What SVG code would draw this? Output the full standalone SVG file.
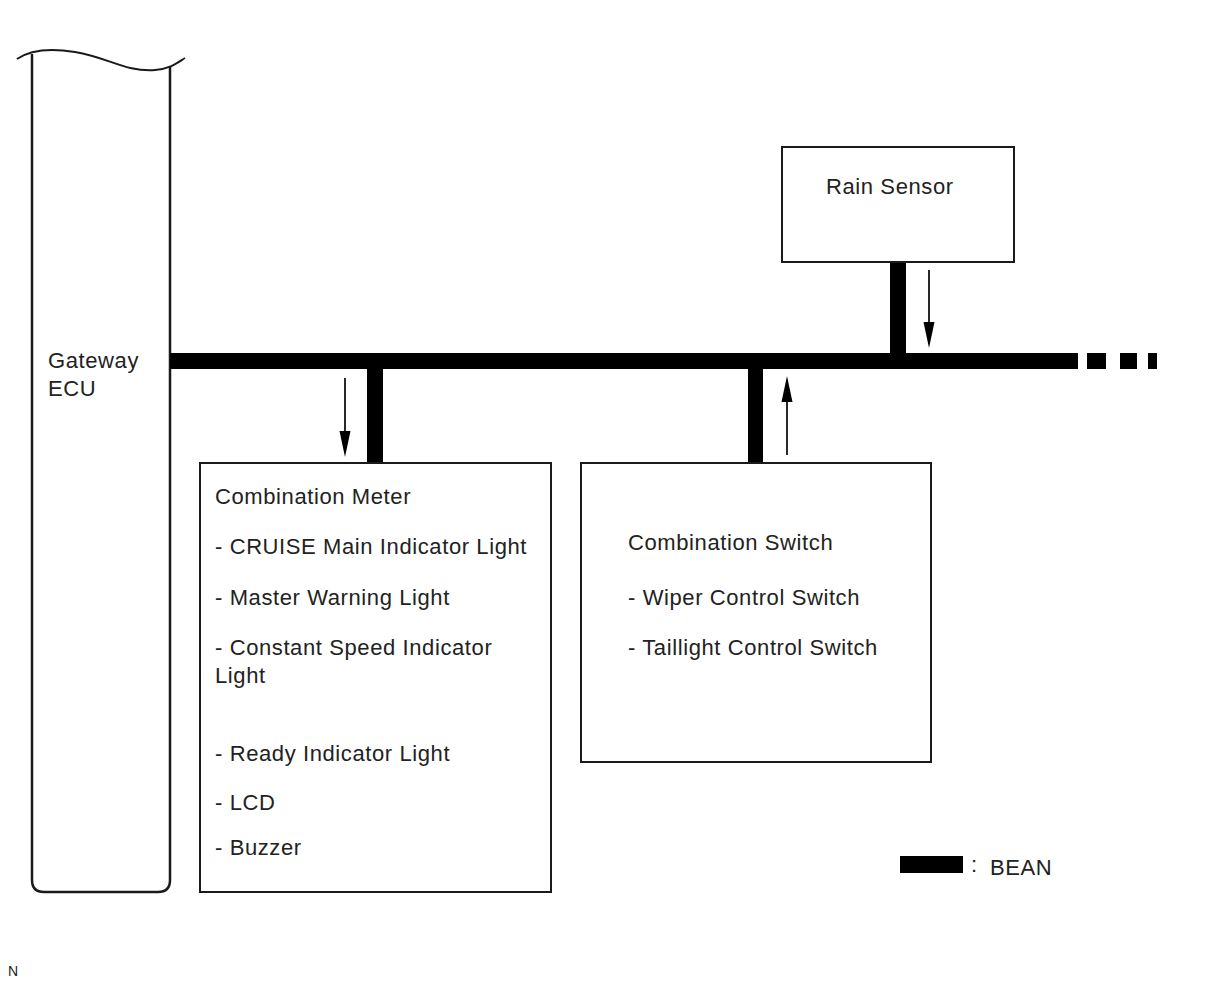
<svg xmlns="http://www.w3.org/2000/svg" width="1210" height="986" viewBox="0 0 1210 986">
<defs>
<style>
.box{fill:#fff;stroke:#1a1a1a;stroke-width:2}
.t{font-family:"Liberation Sans",Arial,sans-serif;font-size:22px;letter-spacing:0.6px;fill:#222}
.bus{fill:#000}
.arr{stroke:#111;stroke-width:1.8;fill:none}
</style>
</defs>
<rect width="1210" height="986" fill="#fff"/>

<g id="gateway-ecu">
<path d="M32,54 V880 Q32,892 44,892 H158 Q170,892 170,880 V67" fill="none" stroke="#1a1a1a" stroke-width="2.5"/>
<path d="M17,59 C30,50 50,48 75,52 C110,58 125,72 155,70 C170,69 177,63 185,58" fill="none" stroke="#1a1a1a" stroke-width="2"/>
<text class="t" x="48" y="368">Gateway</text>
<text class="t" x="48" y="396">ECU</text>
</g>

<g id="connectors">
<rect class="bus" x="170" y="353" width="908" height="16"/>
<rect class="bus" x="1087" y="353" width="19" height="16"/>
<rect class="bus" x="1120" y="353" width="17" height="16"/>
<rect class="bus" x="1148" y="353" width="9" height="16"/>
<rect class="bus" x="367" y="360" width="16" height="103"/>
<rect class="bus" x="748" y="360" width="15" height="103"/>
<rect class="bus" x="890" y="262" width="16" height="95"/>
<line class="arr" x1="345" y1="378" x2="345" y2="448"/>
<path d="M339.5,431 L350.5,431 L345,457 Z" fill="#000"/>
<line class="arr" x1="787" y1="455" x2="787" y2="385"/>
<path d="M781.5,402 L792.5,402 L787,376 Z" fill="#000"/>
<line class="arr" x1="929" y1="270" x2="929" y2="340"/>
<path d="M923.5,322 L934.5,322 L929,348 Z" fill="#000"/>
</g>

<g id="rain-sensor">
<rect class="box" x="782" y="147" width="232" height="115"/>
<text class="t" x="826" y="194">Rain Sensor</text>
</g>

<g id="combination-meter">
<rect class="box" x="200" y="463" width="351" height="429"/>
<text class="t" x="215" y="504">Combination Meter</text>
<text class="t" x="215" y="554">- CRUISE Main Indicator Light</text>
<text class="t" x="215" y="605">- Master Warning Light</text>
<text class="t" x="215" y="655">- Constant Speed Indicator</text>
<text class="t" x="215" y="683">Light</text>
<text class="t" x="215" y="761">- Ready Indicator Light</text>
<text class="t" x="215" y="810">- LCD</text>
<text class="t" x="215" y="855">- Buzzer</text>
</g>

<g id="combination-switch">
<rect class="box" x="581" y="463" width="350" height="299"/>
<text class="t" x="628" y="550">Combination Switch</text>
<text class="t" x="628" y="605">- Wiper Control Switch</text>
<text class="t" x="628" y="655">- Taillight Control Switch</text>
</g>

<g id="legend">
<rect class="bus" x="900" y="856" width="63" height="17"/>
<text class="t" x="971" y="872" font-size="16">:</text>
<text class="t" x="990" y="875">BEAN</text>
</g>

<text x="8" y="976" font-family="Liberation Sans,Arial,sans-serif" font-size="14" fill="#222">N</text>
</svg>
